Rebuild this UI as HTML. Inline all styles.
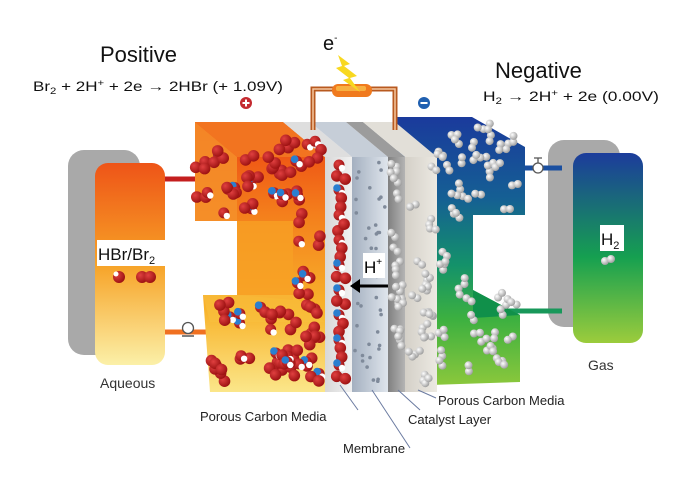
<!DOCTYPE html>
<html><head><meta charset="utf-8"><style>
html,body{margin:0;padding:0;background:#fff;}
svg{display:block;font-family:"Liberation Sans",sans-serif;}
</style></head><body>
<svg id="s" width="700" height="495" viewBox="0 0 700 495" xmlns="http://www.w3.org/2000/svg">
<defs>
<linearGradient id="tankL" x1="0" y1="0" x2="0" y2="1"><stop offset="0" stop-color="#ee5418"/><stop offset="0.5" stop-color="#f7a226"/><stop offset="1" stop-color="#fbf0a8"/></linearGradient>
<linearGradient id="tankR" x1="0" y1="0" x2="0" y2="1"><stop offset="0" stop-color="#1c3c9c"/><stop offset="0.55" stop-color="#16a050"/><stop offset="1" stop-color="#9ccc3c"/></linearGradient>
<linearGradient id="org" x1="0" y1="0" x2="0" y2="1"><stop offset="0" stop-color="#ec4212"/><stop offset="0.35" stop-color="#f4801c"/><stop offset="0.7" stop-color="#f8b42c"/><stop offset="1" stop-color="#fbe68a"/></linearGradient>
<linearGradient id="blu" x1="0" y1="0" x2="0" y2="1"><stop offset="0" stop-color="#1a3a9c"/><stop offset="0.3" stop-color="#155f94"/><stop offset="0.55" stop-color="#14926a"/><stop offset="0.75" stop-color="#3cb040"/><stop offset="1" stop-color="#8cc83c"/></linearGradient>
<linearGradient id="mem" x1="0" y1="0" x2="1" y2="0"><stop offset="0" stop-color="#a4b0c0"/><stop offset="1" stop-color="#dfe5ec"/></linearGradient>
<linearGradient id="cat" x1="0" y1="0" x2="1" y2="0"><stop offset="0" stop-color="#808080"/><stop offset="1" stop-color="#b4b4b4"/></linearGradient>
<linearGradient id="porL" x1="0" y1="0" x2="1" y2="0"><stop offset="0" stop-color="#d8d8d8"/><stop offset="1" stop-color="#f2f2f2"/></linearGradient>
<linearGradient id="porR" x1="0" y1="0" x2="1" y2="0"><stop offset="0" stop-color="#d4d0c8"/><stop offset="1" stop-color="#ece9e2"/></linearGradient>
<radialGradient id="red" cx="0.35" cy="0.35" r="0.7"><stop offset="0" stop-color="#e04040"/><stop offset="1" stop-color="#9a1010"/></radialGradient>
<radialGradient id="wht" cx="0.35" cy="0.35" r="0.7"><stop offset="0" stop-color="#ffffff"/><stop offset="1" stop-color="#9a9a9a"/></radialGradient>
</defs>

<rect x="68" y="150" width="72" height="205" rx="16" fill="#a9a9a9"/>
<rect x="95" y="163" width="70" height="202" rx="13" fill="url(#tankL)"/>
<rect x="548" y="140" width="72" height="187" rx="16" fill="#a9a9a9"/>
<rect x="573" y="153" width="70" height="190" rx="13" fill="url(#tankR)"/>

<line x1="165" y1="179" x2="215" y2="179" stroke="#c41e1e" stroke-width="5"/>
<line x1="165" y1="332" x2="206" y2="332" stroke="#f07020" stroke-width="5"/>
<line x1="520" y1="168" x2="562" y2="168" stroke="#1a4fa0" stroke-width="5"/>
<line x1="505" y1="311" x2="562" y2="311" stroke="#18985a" stroke-width="5"/>

<polygon points="195,122 283,122 325,157 325,392 210,392 203,295 237,295 237,221 195,221" fill="url(#org)"/>
<polygon points="195,122 283,122 325,157 237,157" fill="#f27420"/>
<polygon points="195,122 237,157 237,221 195,221" fill="#f5902a" opacity="0.85"/>
<polygon points="237,221 293,221 293,300 237,295" fill="#f7a024" opacity="0.8"/>
<polygon points="203,295 293,295 325,322 210,322" fill="#f9c040" opacity="0.6"/>

<polygon points="397,117 472,117 525,147 525,215 473,215 473,290 520,315 520,382 400,386" fill="url(#blu)"/>
<polygon points="473,290 520,315 473,318" fill="#10904a"/>

<polygon points="283,122 310,122 352,157 325,157" fill="#dedede"/>
<polygon points="310,122 346,122 388,157 352,157" fill="#c6ced8"/>
<polygon points="346,122 363,122 405,157 388,157" fill="#9c9c9c"/>
<polygon points="363,122 395,122 437,157 405,157" fill="#e2dfd8"/>
<rect x="325" y="157" width="28" height="235" fill="url(#porL)"/>
<rect x="352" y="157" width="36" height="235" fill="url(#mem)"/>
<rect x="388" y="157" width="17" height="235" fill="url(#cat)"/>
<rect x="405" y="157" width="32" height="235" fill="url(#porR)"/>

<g id="mol"></g>

<path d="M313,130 V89 H395 V130" fill="none" stroke="#b85a20" stroke-width="5"/>
<path d="M313,130 V89 H395 V130" fill="none" stroke="#f6c8a0" stroke-width="1.5"/>
<rect x="332" y="84" width="40" height="13" rx="6" fill="#f07a1e"/>
<rect x="336" y="86" width="30" height="5" rx="2" fill="#f8b040"/>
<polygon points="338,55 350,64 344,66 357,76 350,78 360,92 343,80 349,78 336,68 342,66" fill="#f8d820"/>

<circle cx="246" cy="103" r="6" fill="#c42a30"/>
<path d="M242.5,103 H249.5 M246,99.5 V106.5" stroke="#fff" stroke-width="2"/>
<circle cx="424" cy="103" r="6" fill="#2060b0"/>
<path d="M420.5,103 H427.5" stroke="#fff" stroke-width="2"/>

<circle cx="188" cy="328" r="5.5" fill="#fff" stroke="#555" stroke-width="1.3"/>
<path d="M182,336 H194" stroke="#555" stroke-width="1.5"/>
<circle cx="538" cy="168" r="5" fill="#fff" stroke="#555" stroke-width="1.3"/>
<path d="M538,163 V158 M534,158 H542" stroke="#555" stroke-width="1.3"/>

<rect x="363" y="253" width="22" height="25" fill="#fff"/>
<text x="364" y="273" font-size="17">H<tspan font-size="10" dy="-8">+</tspan></text>
<line x1="388" y1="286" x2="356" y2="286" stroke="#000" stroke-width="3"/>
<polygon points="350,286 360,279 360,293" fill="#000"/>

<rect x="97" y="240" width="68" height="26" fill="#fff"/>
<text x="98" y="260" font-size="17" fill="#111">HBr/Br<tspan font-size="11" dy="4">2</tspan></text>
<circle cx="119" cy="277" r="6" fill="url(#red)"/><circle cx="116" cy="274" r="2.5" fill="#fff"/>
<circle cx="142" cy="277" r="6" fill="url(#red)"/><circle cx="150" cy="277" r="6" fill="url(#red)"/>
<rect x="600" y="225" width="24" height="26" fill="#fff"/>
<text x="601" y="245" font-size="17" fill="#111">H<tspan font-size="11" dy="4">2</tspan></text>
<circle cx="605" cy="261" r="4" fill="url(#wht)"/><circle cx="611" cy="259" r="4" fill="url(#wht)"/>

<text x="100" y="62" font-size="22" fill="#111">Positive</text>
<text x="33" y="91" font-size="13.5" fill="#111" textLength="250" lengthAdjust="spacingAndGlyphs">Br<tspan font-size="9" dy="3">2</tspan><tspan dy="-3"> + 2H</tspan><tspan font-size="9" dy="-5">+</tspan><tspan dy="5"> + 2e → 2HBr   (+ 1.09V)</tspan></text>
<text x="323" y="50" font-size="20" fill="#111">e<tspan font-size="10" dy="-9">-</tspan></text>
<text x="495" y="78" font-size="22" fill="#111">Negative</text>
<text x="483" y="101" font-size="13.5" fill="#111" textLength="176" lengthAdjust="spacingAndGlyphs">H<tspan font-size="9" dy="3">2</tspan><tspan dy="-3"> → 2H</tspan><tspan font-size="9" dy="-5">+</tspan><tspan dy="5"> + 2e   (0.00V)</tspan></text>
<text x="100" y="388" font-size="14" fill="#333">Aqueous</text>
<text x="588" y="370" font-size="14" fill="#333">Gas</text>

<g stroke="#6a7aa0" stroke-width="1" fill="none">
<path d="M340,385 L358,410"/>
<path d="M372,390 L410,448"/>
<path d="M398,390 L420,410"/>
<path d="M418,390 L436,398"/>
</g>
<text x="200" y="421" font-size="13" fill="#222">Porous Carbon Media</text>
<text x="408" y="424" font-size="13" fill="#222">Catalyst Layer</text>
<text x="438" y="405" font-size="13" fill="#222">Porous Carbon Media</text>
<text x="343" y="453" font-size="13" fill="#222">Membrane</text>
</svg>
<script>
(function(){
var g=document.getElementById('mol'),ns='http://www.w3.org/2000/svg';
var seed=7;function r(){seed=(seed*16807)%2147483647;return seed/2147483647;}
function c(x,y,rad,f){var e=document.createElementNS(ns,'circle');e.setAttribute('cx',x.toFixed(1));e.setAttribute('cy',y.toFixed(1));e.setAttribute('r',rad);e.setAttribute('fill',f);g.appendChild(e);}
function redPair(x,y){var a=r()*6.28,dx=Math.cos(a)*4.5,dy=Math.sin(a)*4.5;c(x-dx,y-dy,5.8,'url(#red)');c(x+dx,y+dy,5.8,'url(#red)');}
function hbr(x,y){c(x,y,5.5,'url(#red)');c(x+3,y+3,3.2,'#fff');if(r()<0.6)c(x-2,y-2,3.8,'#2a7fd0');}
function wPair(x,y){var a=r()*6.28,dx=Math.cos(a)*3,dy=Math.sin(a)*3;c(x-dx,y-dy,4,'url(#wht)');c(x+dx,y+dy,4,'url(#wht)');}
function inOrange(x,y){return (y>140&&y<218&&x>200&&x<320)||(x>296&&x<320&&y>=218&&y<300)||(y>=300&&y<385&&x>210&&x<320);}
var n=0;while(n<80){var x=200+r()*120,y=135+r()*250;if(inOrange(x,y)){if(r()<0.7)redPair(x,y);else hbr(x,y);n++;}}
for(var i=0;i<18;i++){var y=165+i*12.5;if(i%2)redPair(341,y);else hbr(339,y);}
for(var i=0;i<40;i++){c(355+r()*30,160+r()*228,1.8,'#7f8a9a');}
for(var i=0;i<16;i++){wPair(392+r()*10,160+r()*225);}
for(var i=0;i<20;i++){wPair(410+r()*24,160+r()*225);}
function inBlue(x,y){return (y>125&&y<210&&x>440&&x<518)||(x>440&&x<468&&y>=210&&y<295)||(y>=295&&y<375&&x>440&&x<514);}
n=0;while(n<50){var x=440+r()*80,y=125+r()*250;if(inBlue(x,y)){wPair(x,y);n++;}}
})();
</script>
</body></html>
